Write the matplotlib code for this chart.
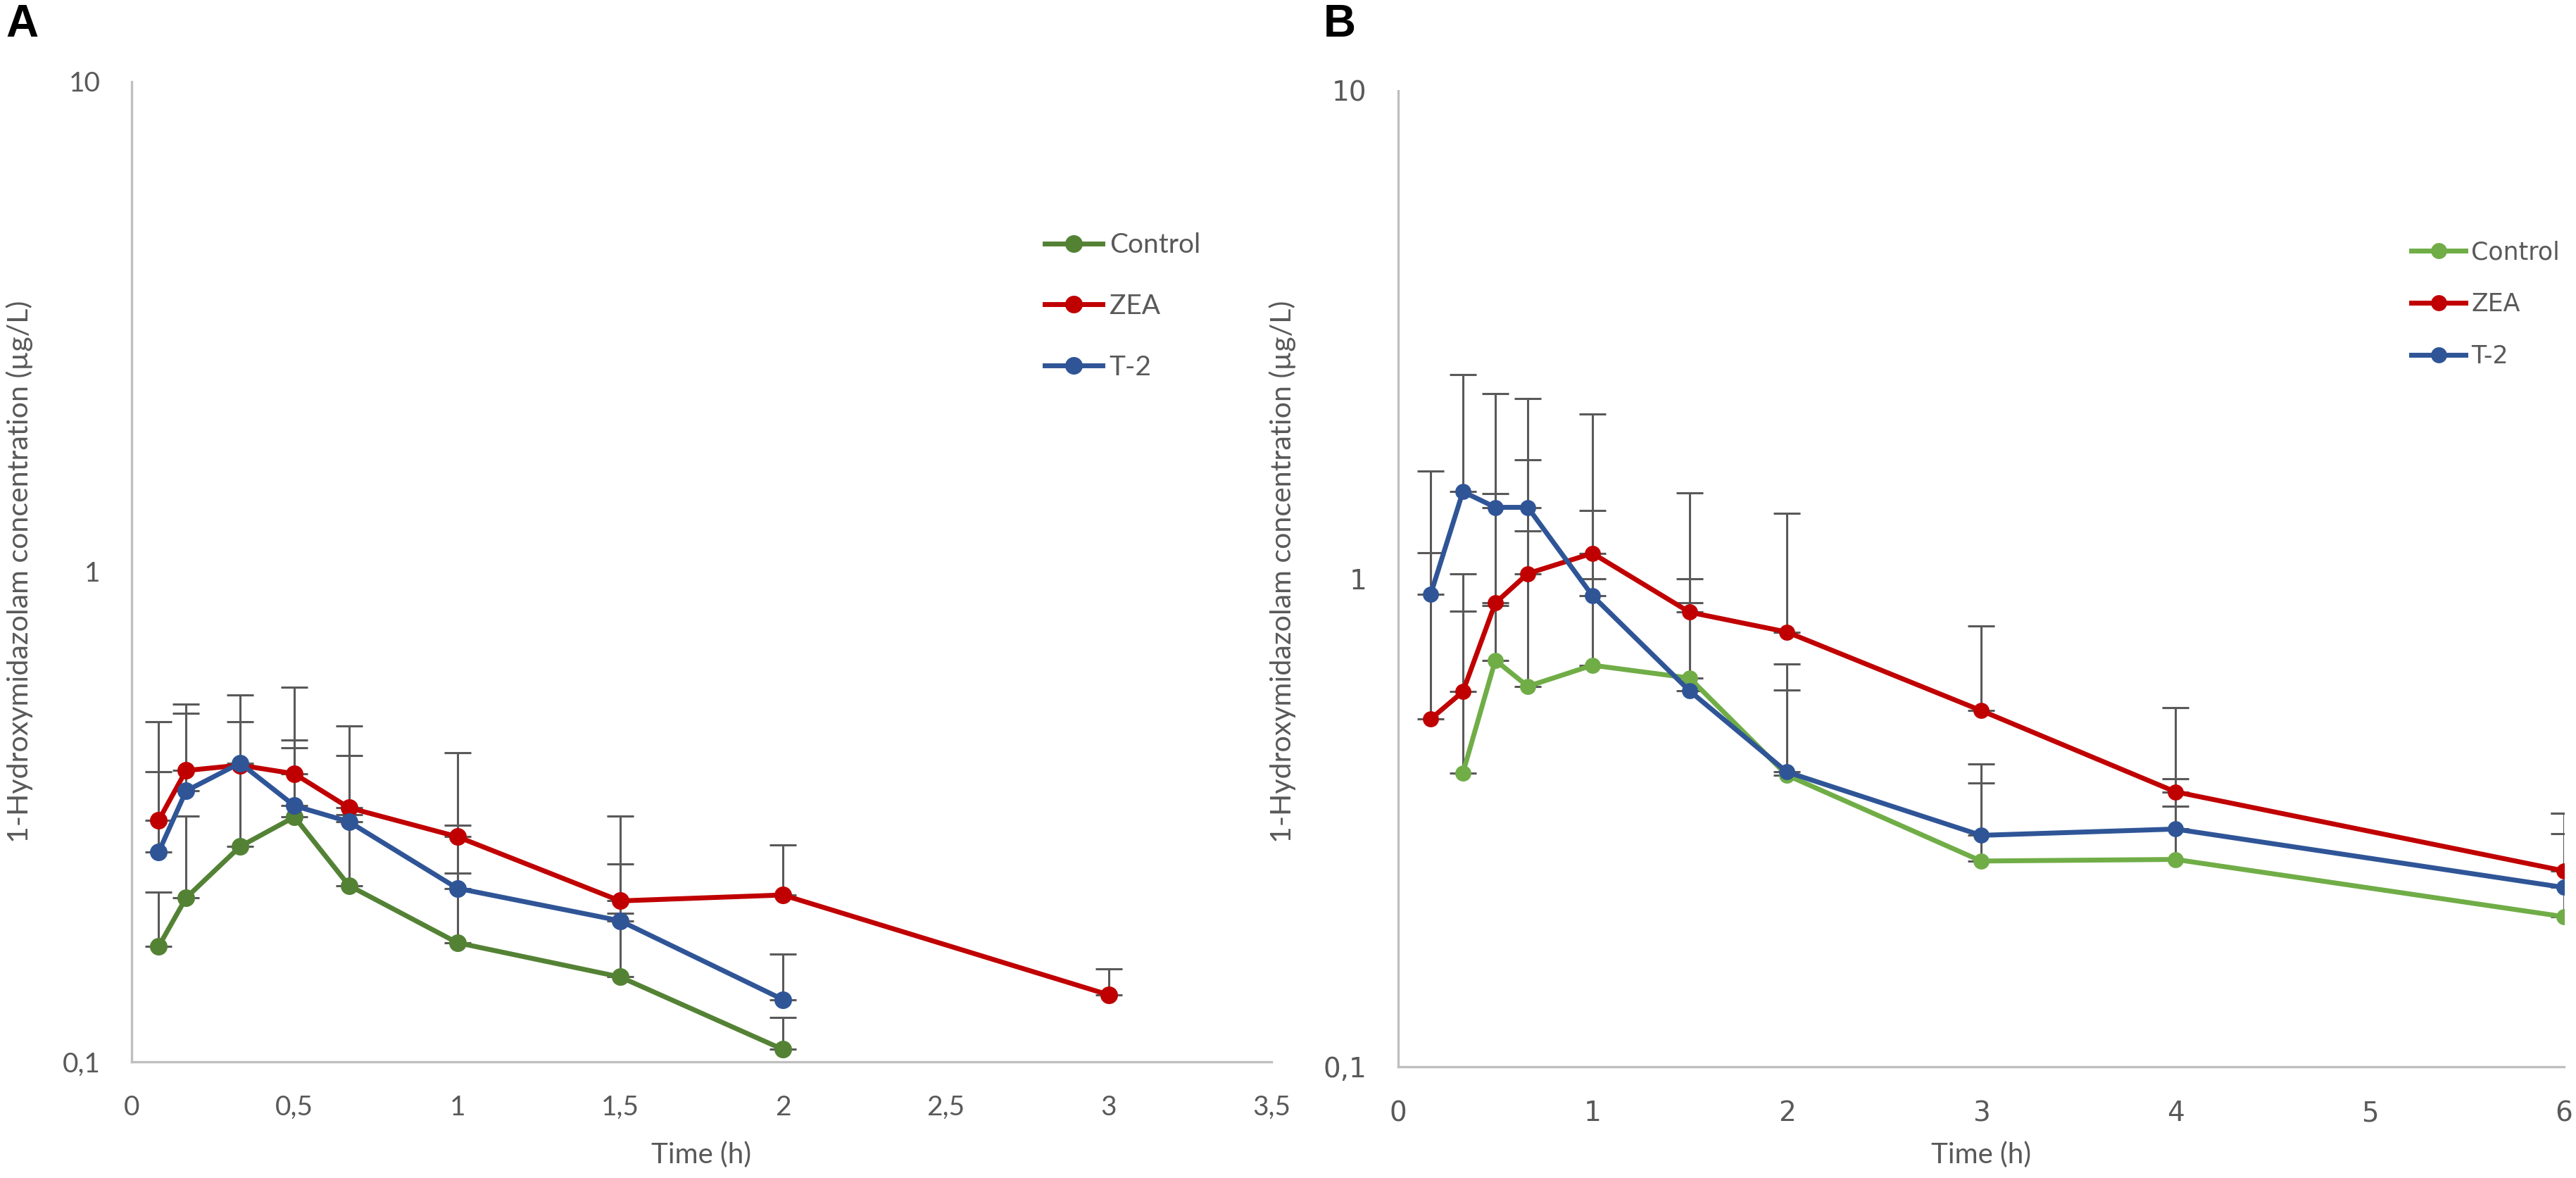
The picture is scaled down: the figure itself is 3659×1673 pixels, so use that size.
import numpy as np
import matplotlib
matplotlib.use('Agg')
import matplotlib.pyplot as plt

# ---- data, panel A ----
time_a = [0.083, 0.167, 0.333, 0.5, 0.667, 1, 1.5, 2]
time_a_zea = [0.083, 0.167, 0.333, 0.5, 0.667, 1, 1.5, 2, 3]
ctrl_a = [0.172, 0.216, 0.275, 0.316, 0.229, 0.175, 0.149, 0.106]
ctrl_a_sd = [0.050, 0.101, 0.125, 0.122, 0.090, 0.068, 0.052, 0.017]
zea_a = [0.311, 0.393, 0.403, 0.387, 0.330, 0.288, 0.213, 0.219, 0.137]
zea_a_sd = [0.183, 0.144, 0.158, 0.195, 0.155, 0.140, 0.104, 0.058, 0.018]
t2_a = [0.268, 0.357, 0.407, 0.333, 0.309, 0.226, 0.194, 0.134]
t2_a_sd = [0.123, 0.158, 0.087, 0.121, 0.113, 0.078, 0.059, 0.032]

# ---- data, panel B ----
time_b = [0.167, 0.333, 0.5, 0.667, 1, 1.5, 2, 3, 4, 6]
ctrl_b = [np.nan, 0.400, 0.681, 0.602, 0.665, 0.626, 0.396, 0.264, 0.266, 0.203]
ctrl_b_sd = [np.nan, 0.457, 0.200, 0.652, 0.335, 0.268, 0.195, 0.117, 0.076, 0.097]
zea_b = [0.516, 0.587, 0.892, 1.025, 1.128, 0.854, 0.778, 0.537, 0.366, 0.252]
zea_b_sd = [0.616, 0.438, 0.604, 0.726, 1.047, 0.646, 0.585, 0.263, 0.179, 0.079]
t2_b = [0.929, 1.509, 1.401, 1.401, 0.923, 0.589, 0.402, 0.298, 0.307, 0.233]
t2_b_sd = [0.732, 1.109, 0.999, 0.942, 0.456, 0.411, 0.267, 0.119, 0.082, 0.098]

xticks_a = [0, 0.5, 1, 1.5, 2, 2.5, 3, 3.5]
xticks_b = [0, 1, 2, 3, 4, 5, 6]
yticks = [0.1, 1, 10]
ytick_labels = ['0,1', '1', '10']
labels = ['Control', 'ZEA', 'T-2']

W, H = 3659, 1673
fig = plt.figure(figsize=(W / 200, H / 200), dpi=200)

gray = '#595959'
axis_gray = '#BFBFBF'
font_a = ['Lato', 'DejaVu Sans']
font_b = ['DejaVu Sans']


def panel(ax, series, xmax, xticks, ms, fam_ticks):
    for t, y, sd, col in series:
        y = np.array(y, dtype=float)
        sd = np.array(sd, dtype=float)
        ax.errorbar(t, y, yerr=[np.zeros_like(sd), sd], fmt='none',
                    ecolor=gray, elinewidth=1.1, capsize=7, capthick=1.1,
                    zorder=2)
    for t, y, sd, col in series:
        ax.plot(t, y, '-o', color=col, lw=2.5, ms=ms, zorder=3)
    ax.set_yscale('log')
    ax.set_ylim(0.1, 10)
    ax.set_xlim(0, xmax)
    ax.set_yticks(yticks)
    ax.set_yticklabels(ytick_labels)
    ax.yaxis.set_minor_locator(matplotlib.ticker.NullLocator())
    ax.set_xticks(xticks)
    ax.set_xticklabels([str(v).replace('.', ',') for v in xticks])
    for s in ['top', 'right']:
        ax.spines[s].set_visible(False)
    for s in ['left', 'bottom']:
        ax.spines[s].set_color(axis_gray)
        ax.spines[s].set_linewidth(1.2)
    ax.tick_params(length=0, colors=gray, labelsize=14)
    ax.tick_params(axis='y', pad=16)
    ax.tick_params(axis='x', pad=17)
    for lb in ax.get_xticklabels() + ax.get_yticklabels():
        lb.set_family(fam_ticks)


# panel A
axA = fig.add_axes([187 / W, 1 - 1508 / H, (1806 - 187) / W, (1508 - 116) / H])
series_a = [(time_a, ctrl_a, ctrl_a_sd, '#548235'),
            (time_a_zea, zea_a, zea_a_sd, '#C00000'),
            (time_a, t2_a, t2_a_sd, '#2F5597')]
panel(axA, series_a, 3.5, xticks_a, 8, font_a)
axA.legend(labels, loc='center left', bbox_to_anchor=(1465 / W, 1 - 435 / H),
           bbox_transform=fig.transFigure, frameon=False, borderpad=0,
           handlelength=2.1, handletextpad=0.25, labelspacing=1.3,
           prop={'family': font_a, 'size': 14}, labelcolor=gray)

# panel B
axB = fig.add_axes([1986 / W, 1 - 1515 / H, (3642 - 1986) / W, (1515 - 129) / H])
series_b = [(time_b, ctrl_b, ctrl_b_sd, '#70AD47'),
            (time_b, zea_b, zea_b_sd, '#C00000'),
            (time_b, t2_b, t2_b_sd, '#2F5597')]
panel(axB, series_b, 6, xticks_b, 7.2, font_b)
axB.legend(labels, loc='center left', bbox_to_anchor=(3408 / W, 1 - 432 / H),
           bbox_transform=fig.transFigure, frameon=False, borderpad=0,
           handlelength=2.2, handletextpad=0.25, labelspacing=1.15,
           prop={'family': font_b, 'size': 12.5}, labelcolor=gray)

# axis titles
ylab = '1-Hydroxymidazolam concentration (µg/L)'
fig.text(28 / W, 1 - 812 / H, ylab, rotation=90, ha='center', va='center',
         fontsize=14.8, color=gray, family=font_a)
fig.text(1822 / W, 1 - 812 / H, ylab, rotation=90, ha='center', va='center',
         fontsize=14.8, color=gray, family=font_a)
fig.text(996 / W, 1 - 1640 / H, 'Time (h)', ha='center', va='center',
         fontsize=14.5, color=gray, family=font_a)
fig.text(2814 / W, 1 - 1640 / H, 'Time (h)', ha='center', va='center',
         fontsize=14.5, color=gray, family=font_a)

# panel letters
fig.text(8 / W, 1 - 52 / H, 'A', fontsize=23, fontweight='bold',
         family='Liberation Sans', ha='left', va='baseline')
fig.text(1880 / W, 1 - 52 / H, 'B', fontsize=23, fontweight='bold',
         family='Liberation Sans', ha='left', va='baseline')

fig.savefig('out.png', dpi=200, facecolor='white')
